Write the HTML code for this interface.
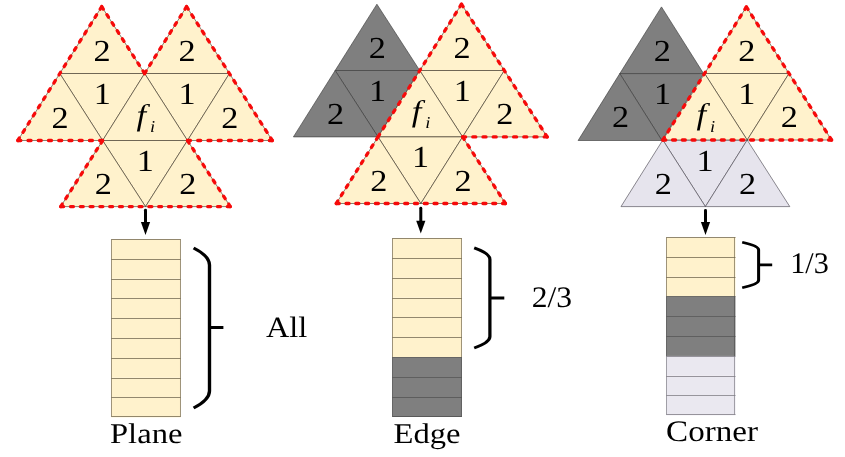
<!DOCTYPE html>
<html lang="en">
<head>
<meta charset="utf-8">
<title>Plane / Edge / Corner neighbourhood</title>
<style>
html,body{margin:0;padding:0;background:#fff;}
body{width:845px;height:457px;overflow:hidden;}
svg{display:block;}
svg text{font-family:"Liberation Serif",serif;fill:#000;text-rendering:geometricPrecision;}
.wrap{width:845px;height:457px;will-change:transform;transform:translateZ(0);}
</style>
</head>
<body>
<div class="wrap">
<svg width="845" height="457" viewBox="0 0 845 457">
<rect x="0" y="0" width="845" height="457" fill="#ffffff"/>
<g transform="scale(1.12,1)">
<polygon points="90.84,6.6 53.37,73.5 129.12,73.5" fill="#FFF2CC" stroke="#40382a" stroke-width="0.6" stroke-linejoin="round"/>
<polygon points="166.59,6.6 129.12,73.5 204.87,73.5" fill="#FFF2CC" stroke="#40382a" stroke-width="0.6" stroke-linejoin="round"/>
<polygon points="53.37,73.5 129.12,73.5 91.64,140.5" fill="#FFF2CC" stroke="#40382a" stroke-width="0.6" stroke-linejoin="round"/>
<polygon points="129.12,73.5 204.87,73.5 167.39,140.5" fill="#FFF2CC" stroke="#40382a" stroke-width="0.6" stroke-linejoin="round"/>
<polygon points="53.37,73.5 15.89,140.5 91.64,140.5" fill="#FFF2CC" stroke="#40382a" stroke-width="0.6" stroke-linejoin="round"/>
<polygon points="204.87,73.5 167.39,140.5 243.14,140.5" fill="#FFF2CC" stroke="#40382a" stroke-width="0.6" stroke-linejoin="round"/>
<polygon points="129.12,73.5 91.64,140.5 167.39,140.5" fill="#FFF2CC" stroke="#40382a" stroke-width="0.6" stroke-linejoin="round"/>
<polygon points="91.64,140.5 167.39,140.5 129.92,206.6" fill="#FFF2CC" stroke="#40382a" stroke-width="0.6" stroke-linejoin="round"/>
<polygon points="91.64,140.5 54.17,206.6 129.92,206.6" fill="#FFF2CC" stroke="#40382a" stroke-width="0.6" stroke-linejoin="round"/>
<polygon points="167.39,140.5 129.92,206.6 205.67,206.6" fill="#FFF2CC" stroke="#40382a" stroke-width="0.6" stroke-linejoin="round"/>
<line x1="129.91" y1="210.2" x2="129.91" y2="223.1" stroke="#000" stroke-width="2.68" stroke-linecap="round"/>
<polygon points="125.8,222.1 134.02,222.1 129.91,234.9" fill="#000"/>
<rect x="99.29" y="239.2" width="62.14" height="19.8" fill="#FFF2CC"/>
<rect x="99.29" y="259" width="62.14" height="19.8" fill="#FFF2CC"/>
<rect x="99.29" y="278.8" width="62.14" height="19.8" fill="#FFF2CC"/>
<rect x="99.29" y="298.6" width="62.14" height="19.8" fill="#FFF2CC"/>
<rect x="99.29" y="318.4" width="62.14" height="19.8" fill="#FFF2CC"/>
<rect x="99.29" y="338.2" width="62.14" height="19.8" fill="#FFF2CC"/>
<rect x="99.29" y="358" width="62.14" height="19.8" fill="#FFF2CC"/>
<rect x="99.29" y="377.8" width="62.14" height="19.8" fill="#FFF2CC"/>
<rect x="99.29" y="397.6" width="62.14" height="19.8" fill="#FFF2CC"/>
<path d="M99.55,239.5 V259.5 M161.16,239.5 V259.5" stroke="#6b6048" stroke-width="0.62" fill="none"/>
<path d="M99.29,239.5 H161.43" stroke="#6b6048" stroke-width="0.7" fill="none"/>
<path d="M99.55,259.5 V279.5 M161.16,259.5 V279.5" stroke="#6b6048" stroke-width="0.62" fill="none"/>
<path d="M99.29,259.5 H161.43" stroke="#6b6048" stroke-width="0.7" fill="none"/>
<path d="M99.55,279.5 V298.5 M161.16,279.5 V298.5" stroke="#6b6048" stroke-width="0.62" fill="none"/>
<path d="M99.29,279.5 H161.43" stroke="#6b6048" stroke-width="0.7" fill="none"/>
<path d="M99.55,298.5 V318.5 M161.16,298.5 V318.5" stroke="#6b6048" stroke-width="0.62" fill="none"/>
<path d="M99.29,298.5 H161.43" stroke="#6b6048" stroke-width="0.7" fill="none"/>
<path d="M99.55,318.5 V338.5 M161.16,318.5 V338.5" stroke="#6b6048" stroke-width="0.62" fill="none"/>
<path d="M99.29,318.5 H161.43" stroke="#6b6048" stroke-width="0.7" fill="none"/>
<path d="M99.55,338.5 V358.5 M161.16,338.5 V358.5" stroke="#6b6048" stroke-width="0.62" fill="none"/>
<path d="M99.29,338.5 H161.43" stroke="#6b6048" stroke-width="0.7" fill="none"/>
<path d="M99.55,358.5 V378.5 M161.16,358.5 V378.5" stroke="#6b6048" stroke-width="0.62" fill="none"/>
<path d="M99.29,358.5 H161.43" stroke="#6b6048" stroke-width="0.7" fill="none"/>
<path d="M99.55,378.5 V397.5 M161.16,378.5 V397.5" stroke="#6b6048" stroke-width="0.62" fill="none"/>
<path d="M99.29,378.5 H161.43" stroke="#6b6048" stroke-width="0.7" fill="none"/>
<path d="M99.55,397.5 V416.5 M161.16,397.5 V416.5" stroke="#6b6048" stroke-width="0.62" fill="none"/>
<path d="M99.29,397.5 H161.43" stroke="#6b6048" stroke-width="0.7" fill="none"/>
<path d="M99.29,416.5 H161.43" stroke="#6b6048" stroke-width="0.7" fill="none"/>
<path d="M172.86,248 C178.82,251.4 187.05,257.86 187.05,265 V391 C187.05,398.14 178.82,404.6 172.86,408 M187.05,327.4 H199.46" fill="none" stroke="#000" stroke-width="3.0" stroke-linecap="butt" stroke-linejoin="round"/>
<polygon points="336.52,4.2 299.24,70.5 374.78,70.5" fill="#7F7F7F" stroke="#3a3a3a" stroke-width="0.6" stroke-linejoin="round"/>
<polygon points="299.24,70.5 374.78,70.5 337.5,136.9" fill="#7F7F7F" stroke="#3a3a3a" stroke-width="0.6" stroke-linejoin="round"/>
<polygon points="299.24,70.5 261.96,136.9 337.5,136.9" fill="#7F7F7F" stroke="#3a3a3a" stroke-width="0.6" stroke-linejoin="round"/>
<polygon points="412.05,4.2 374.78,70.5 450.31,70.5" fill="#FFF2CC" stroke="#40382a" stroke-width="0.6" stroke-linejoin="round"/>
<polygon points="374.78,70.5 450.31,70.5 413.04,136.9" fill="#FFF2CC" stroke="#40382a" stroke-width="0.6" stroke-linejoin="round"/>
<polygon points="450.31,70.5 413.04,136.9 488.57,136.9" fill="#FFF2CC" stroke="#40382a" stroke-width="0.6" stroke-linejoin="round"/>
<polygon points="374.78,70.5 337.5,136.9 413.04,136.9" fill="#FFF2CC" stroke="#40382a" stroke-width="0.6" stroke-linejoin="round"/>
<polygon points="337.5,136.9 413.04,136.9 375.76,203.5" fill="#FFF2CC" stroke="#40382a" stroke-width="0.6" stroke-linejoin="round"/>
<polygon points="337.5,136.9 300.22,203.5 375.76,203.5" fill="#FFF2CC" stroke="#40382a" stroke-width="0.6" stroke-linejoin="round"/>
<polygon points="413.04,136.9 375.76,203.5 451.29,203.5" fill="#FFF2CC" stroke="#40382a" stroke-width="0.6" stroke-linejoin="round"/>
<line x1="375.71" y1="208.2" x2="375.71" y2="221.7" stroke="#000" stroke-width="2.68" stroke-linecap="round"/>
<polygon points="371.61,220.7 379.82,220.7 375.71,233.5" fill="#000"/>
<rect x="350.18" y="238.1" width="62.23" height="19.88" fill="#FFF2CC"/>
<rect x="350.18" y="257.98" width="62.23" height="19.88" fill="#FFF2CC"/>
<rect x="350.18" y="277.86" width="62.23" height="19.88" fill="#FFF2CC"/>
<rect x="350.18" y="297.73" width="62.23" height="19.88" fill="#FFF2CC"/>
<rect x="350.18" y="317.61" width="62.23" height="19.88" fill="#FFF2CC"/>
<rect x="350.18" y="337.49" width="62.23" height="19.88" fill="#FFF2CC"/>
<rect x="350.18" y="357.37" width="62.23" height="19.88" fill="#7F7F7F"/>
<rect x="350.18" y="377.24" width="62.23" height="19.88" fill="#7F7F7F"/>
<rect x="350.18" y="397.12" width="62.23" height="19.88" fill="#7F7F7F"/>
<path d="M350.45,238.5 V258.5 M412.05,238.5 V258.5" stroke="#6b6048" stroke-width="0.62" fill="none"/>
<path d="M350.18,238.5 H412.41" stroke="#6b6048" stroke-width="0.7" fill="none"/>
<path d="M350.45,258.5 V278.5 M412.05,258.5 V278.5" stroke="#6b6048" stroke-width="0.62" fill="none"/>
<path d="M350.18,258.5 H412.41" stroke="#6b6048" stroke-width="0.7" fill="none"/>
<path d="M350.45,278.5 V298.5 M412.05,278.5 V298.5" stroke="#6b6048" stroke-width="0.62" fill="none"/>
<path d="M350.18,278.5 H412.41" stroke="#6b6048" stroke-width="0.7" fill="none"/>
<path d="M350.45,298.5 V317.5 M412.05,298.5 V317.5" stroke="#6b6048" stroke-width="0.62" fill="none"/>
<path d="M350.18,298.5 H412.41" stroke="#6b6048" stroke-width="0.7" fill="none"/>
<path d="M350.45,317.5 V337.5 M412.05,317.5 V337.5" stroke="#6b6048" stroke-width="0.62" fill="none"/>
<path d="M350.18,317.5 H412.41" stroke="#6b6048" stroke-width="0.7" fill="none"/>
<path d="M350.45,337.5 V357.5 M412.05,337.5 V357.5" stroke="#6b6048" stroke-width="0.62" fill="none"/>
<path d="M350.18,337.5 H412.41" stroke="#6b6048" stroke-width="0.7" fill="none"/>
<path d="M350.45,357.5 V377.5 M412.05,357.5 V377.5" stroke="#4c4c4c" stroke-width="0.62" fill="none"/>
<path d="M350.18,357.5 H412.41" stroke="#4c4c4c" stroke-width="0.7" fill="none"/>
<path d="M350.45,377.5 V397.5 M412.05,377.5 V397.5" stroke="#4c4c4c" stroke-width="0.62" fill="none"/>
<path d="M350.18,377.5 H412.41" stroke="#4c4c4c" stroke-width="0.7" fill="none"/>
<path d="M350.45,397.5 V416.5 M412.05,397.5 V416.5" stroke="#4c4c4c" stroke-width="0.62" fill="none"/>
<path d="M350.18,397.5 H412.41" stroke="#4c4c4c" stroke-width="0.7" fill="none"/>
<path d="M350.18,416.5 H412.41" stroke="#4c4c4c" stroke-width="0.7" fill="none"/>
<path d="M423.39,247.9 C429.28,250.2 437.41,254.57 437.41,259.4 V336.5 C437.41,341.33 429.28,345.7 423.39,348 M437.41,298 H450.27" fill="none" stroke="#000" stroke-width="2.9" stroke-linecap="butt" stroke-linejoin="round"/>
<polygon points="590.62,6.9 553.39,73.6 628.21,73.6" fill="#7F7F7F" stroke="#3a3a3a" stroke-width="0.6" stroke-linejoin="round"/>
<polygon points="553.39,73.6 628.21,73.6 590.98,140.5" fill="#7F7F7F" stroke="#3a3a3a" stroke-width="0.6" stroke-linejoin="round"/>
<polygon points="553.39,73.6 516.16,140.5 590.98,140.5" fill="#7F7F7F" stroke="#3a3a3a" stroke-width="0.6" stroke-linejoin="round"/>
<polygon points="591.79,140 667.14,140 629.82,206.6" fill="#E6E4ED" stroke="#4a4850" stroke-width="0.6" stroke-linejoin="round"/>
<polygon points="591.79,140 554.46,206.6 629.82,206.6" fill="#E6E4ED" stroke="#4a4850" stroke-width="0.6" stroke-linejoin="round"/>
<polygon points="667.14,140 629.82,206.6 705.18,206.6" fill="#E6E4ED" stroke="#4a4850" stroke-width="0.6" stroke-linejoin="round"/>
<polygon points="666.43,6.9 629.11,73.5 704.46,73.5" fill="#FFF2CC" stroke="#40382a" stroke-width="0.6" stroke-linejoin="round"/>
<polygon points="629.11,73.5 704.46,73.5 667.14,140" fill="#FFF2CC" stroke="#40382a" stroke-width="0.6" stroke-linejoin="round"/>
<polygon points="704.46,73.5 667.14,140 742.5,140" fill="#FFF2CC" stroke="#40382a" stroke-width="0.6" stroke-linejoin="round"/>
<polygon points="629.11,73.5 591.79,140 667.14,140" fill="#FFF2CC" stroke="#40382a" stroke-width="0.6" stroke-linejoin="round"/>
<line x1="629.91" y1="210.4" x2="629.91" y2="223.1" stroke="#000" stroke-width="2.68" stroke-linecap="round"/>
<polygon points="625.8,222.1 634.02,222.1 629.91,234.9" fill="#000"/>
<rect x="594.82" y="237.3" width="61.87" height="19.78" fill="#FFF2CC"/>
<rect x="594.82" y="257.08" width="61.87" height="19.78" fill="#FFF2CC"/>
<rect x="594.82" y="276.86" width="61.87" height="19.78" fill="#FFF2CC"/>
<rect x="594.82" y="296.63" width="61.87" height="19.78" fill="#7F7F7F"/>
<rect x="594.82" y="316.41" width="61.87" height="19.78" fill="#7F7F7F"/>
<rect x="594.82" y="336.19" width="61.87" height="19.78" fill="#7F7F7F"/>
<rect x="594.82" y="355.97" width="61.87" height="19.78" fill="#EAE8F0"/>
<rect x="594.82" y="375.74" width="61.87" height="19.78" fill="#EAE8F0"/>
<rect x="594.82" y="395.52" width="61.87" height="19.78" fill="#EAE8F0"/>
<path d="M595.09,237.5 V257.5 M655.8,237.5 V257.5" stroke="#6b6048" stroke-width="0.62" fill="none"/>
<path d="M594.82,237.5 H656.7" stroke="#6b6048" stroke-width="0.7" fill="none"/>
<path d="M595.09,257.5 V277.5 M655.8,257.5 V277.5" stroke="#6b6048" stroke-width="0.62" fill="none"/>
<path d="M594.82,257.5 H656.7" stroke="#6b6048" stroke-width="0.7" fill="none"/>
<path d="M595.09,277.5 V296.5 M655.8,277.5 V296.5" stroke="#6b6048" stroke-width="0.62" fill="none"/>
<path d="M594.82,277.5 H656.7" stroke="#6b6048" stroke-width="0.7" fill="none"/>
<path d="M595.09,296.5 V316.5 M655.8,296.5 V316.5" stroke="#4c4c4c" stroke-width="0.62" fill="none"/>
<path d="M594.82,296.5 H656.7" stroke="#4c4c4c" stroke-width="0.7" fill="none"/>
<path d="M595.09,316.5 V336.5 M655.8,316.5 V336.5" stroke="#4c4c4c" stroke-width="0.62" fill="none"/>
<path d="M594.82,316.5 H656.7" stroke="#4c4c4c" stroke-width="0.7" fill="none"/>
<path d="M595.09,336.5 V356.5 M655.8,336.5 V356.5" stroke="#4c4c4c" stroke-width="0.62" fill="none"/>
<path d="M594.82,336.5 H656.7" stroke="#4c4c4c" stroke-width="0.7" fill="none"/>
<path d="M595.09,356.5 V376.5 M655.8,356.5 V376.5" stroke="#77757d" stroke-width="0.62" fill="none"/>
<path d="M594.82,356.5 H656.7" stroke="#77757d" stroke-width="0.7" fill="none"/>
<path d="M595.09,376.5 V395.5 M655.8,376.5 V395.5" stroke="#77757d" stroke-width="0.62" fill="none"/>
<path d="M594.82,376.5 H656.7" stroke="#77757d" stroke-width="0.7" fill="none"/>
<path d="M595.09,395.5 V414.5 M655.8,395.5 V414.5" stroke="#77757d" stroke-width="0.62" fill="none"/>
<path d="M594.82,395.5 H656.7" stroke="#77757d" stroke-width="0.7" fill="none"/>
<path d="M594.82,414.5 H656.7" stroke="#77757d" stroke-width="0.7" fill="none"/>
<path d="M662.68,242.3 C668.83,243.8 677.32,246.65 677.32,249.8 V280.2 C677.32,283.35 668.83,286.2 662.68,287.7 M677.32,264.8 H689.46" fill="none" stroke="#000" stroke-width="2.7" stroke-linecap="butt" stroke-linejoin="round"/>
</g>
<g fill="none">
<line x1="101.74" y1="6.6" x2="17.8" y2="140.5" stroke="#F60A0A" stroke-width="3.3" stroke-dasharray="3 6.69" stroke-linecap="round"/>
<line x1="17.8" y1="140.5" x2="102.64" y2="140.5" stroke="#F60A0A" stroke-width="3.3" stroke-dasharray="3 7.23" stroke-linecap="round"/>
<line x1="102.64" y1="140.5" x2="60.67" y2="206.6" stroke="#F60A0A" stroke-width="3.3" stroke-dasharray="3 6.41" stroke-linecap="round"/>
<line x1="60.67" y1="206.6" x2="230.35" y2="206.6" stroke="#F60A0A" stroke-width="3.3" stroke-dasharray="3 6.8" stroke-linecap="round"/>
<line x1="230.35" y1="206.6" x2="187.48" y2="140.5" stroke="#F60A0A" stroke-width="3.3" stroke-dasharray="3 6.47" stroke-linecap="round"/>
<line x1="187.48" y1="140.5" x2="272.32" y2="140.5" stroke="#F60A0A" stroke-width="3.3" stroke-dasharray="3 7.23" stroke-linecap="round"/>
<line x1="272.32" y1="140.5" x2="186.58" y2="6.6" stroke="#F60A0A" stroke-width="3.3" stroke-dasharray="3 6.75" stroke-linecap="round"/>
<line x1="186.58" y1="6.6" x2="144.61" y2="73.5" stroke="#F60A0A" stroke-width="3.3" stroke-dasharray="3 6.5" stroke-linecap="round"/>
<line x1="144.61" y1="73.5" x2="101.74" y2="6.6" stroke="#F60A0A" stroke-width="3.3" stroke-dasharray="3 6.56" stroke-linecap="round"/>
<line x1="461.5" y1="4.2" x2="378" y2="136.9" stroke="#F60A0A" stroke-width="3.3" stroke-dasharray="3 6.61" stroke-linecap="round"/>
<line x1="378" y1="136.9" x2="336.25" y2="203.5" stroke="#F60A0A" stroke-width="3.3" stroke-dasharray="3 6.45" stroke-linecap="round"/>
<line x1="336.25" y1="203.5" x2="505.45" y2="203.5" stroke="#F60A0A" stroke-width="3.3" stroke-dasharray="3 6.78" stroke-linecap="round"/>
<line x1="505.45" y1="203.5" x2="462.6" y2="136.9" stroke="#F60A0A" stroke-width="3.3" stroke-dasharray="3 6.52" stroke-linecap="round"/>
<line x1="462.6" y1="136.9" x2="547.2" y2="136.9" stroke="#F60A0A" stroke-width="3.3" stroke-dasharray="3 7.2" stroke-linecap="round"/>
<line x1="547.2" y1="136.9" x2="461.5" y2="4.2" stroke="#F60A0A" stroke-width="3.3" stroke-dasharray="3 6.69" stroke-linecap="round"/>
<line x1="746.4" y1="6.9" x2="662.8" y2="140" stroke="#F60A0A" stroke-width="3.3" stroke-dasharray="3 6.64" stroke-linecap="round"/>
<line x1="662.8" y1="140" x2="831.6" y2="140" stroke="#F60A0A" stroke-width="3.3" stroke-dasharray="3 6.75" stroke-linecap="round"/>
<line x1="831.6" y1="140" x2="746.4" y2="6.9" stroke="#F60A0A" stroke-width="3.3" stroke-dasharray="3 6.69" stroke-linecap="round"/>
</g>
<g>
<text transform="translate(102.1,60.6) scale(1.12,1)" font-size="30.6" text-anchor="middle">2</text>
<text transform="translate(186.94,60.6) scale(1.12,1)" font-size="30.6" text-anchor="middle">2</text>
<text transform="translate(102.33,103.6) scale(1.12,1)" font-size="30.6" text-anchor="middle">1</text>
<text transform="translate(187.17,103.6) scale(1.12,1)" font-size="30.6" text-anchor="middle">1</text>
<text transform="translate(60.13,128) scale(1.12,1)" font-size="30.6" text-anchor="middle">2</text>
<text transform="translate(229.81,128) scale(1.12,1)" font-size="30.6" text-anchor="middle">2</text>
<text transform="translate(145.19,170.7) scale(1.12,1)" font-size="30.6" text-anchor="middle">1</text>
<text transform="translate(103.3,194.2) scale(1.12,1)" font-size="30.6" text-anchor="middle">2</text>
<text transform="translate(187.84,194.2) scale(1.12,1)" font-size="30.6" text-anchor="middle">2</text>
<text transform="translate(136.52,124.7) scale(1.15,1)" font-size="30" font-style="italic" text-anchor="start">f</text>
<text transform="translate(150.02,132) scale(1.12,1)" font-size="16.5" font-style="italic" text-anchor="start">i</text>
<text transform="translate(266,337) scale(1.1,1)" font-size="29.4" text-anchor="start">All</text>
<text transform="translate(146.2,442.6) scale(1.14,1)" font-size="28.6" text-anchor="middle">Plane</text>
<text transform="translate(377.34,57.6) scale(1.12,1)" font-size="30.6" text-anchor="middle">2</text>
<text transform="translate(461.94,57.6) scale(1.12,1)" font-size="30.6" text-anchor="middle">2</text>
<text transform="translate(377.61,100.6) scale(1.12,1)" font-size="30.6" text-anchor="middle">1</text>
<text transform="translate(462.21,100.6) scale(1.12,1)" font-size="30.6" text-anchor="middle">1</text>
<text transform="translate(335.59,123.7) scale(1.12,1)" font-size="30.6" text-anchor="middle">2</text>
<text transform="translate(504.79,123.7) scale(1.12,1)" font-size="30.6" text-anchor="middle">2</text>
<text transform="translate(420.46,167.1) scale(1.12,1)" font-size="30.6" text-anchor="middle">1</text>
<text transform="translate(378.74,190.5) scale(1.12,1)" font-size="30.6" text-anchor="middle">2</text>
<text transform="translate(463.04,190.5) scale(1.12,1)" font-size="30.6" text-anchor="middle">2</text>
<text transform="translate(411.74,121.1) scale(1.15,1)" font-size="30" font-style="italic" text-anchor="start">f</text>
<text transform="translate(425.24,128.4) scale(1.12,1)" font-size="16.5" font-style="italic" text-anchor="start">i</text>
<text transform="translate(531.8,307.4) scale(1.06,1)" font-size="29.8" text-anchor="start">2/3</text>
<text transform="translate(427,442.6) scale(1.14,1)" font-size="28.6" text-anchor="middle">Edge</text>
<text transform="translate(662.32,60.6) scale(1.12,1)" font-size="30.6" text-anchor="middle">2</text>
<text transform="translate(746.72,60.6) scale(1.12,1)" font-size="30.6" text-anchor="middle">2</text>
<text transform="translate(662.52,103.6) scale(1.12,1)" font-size="30.6" text-anchor="middle">1</text>
<text transform="translate(746.92,103.6) scale(1.12,1)" font-size="30.6" text-anchor="middle">1</text>
<text transform="translate(620.52,126.8) scale(1.12,1)" font-size="30.6" text-anchor="middle">2</text>
<text transform="translate(789.32,126.8) scale(1.12,1)" font-size="30.6" text-anchor="middle">2</text>
<text transform="translate(705.12,171.1) scale(1.12,1)" font-size="30.6" text-anchor="middle">1</text>
<text transform="translate(663.42,194.2) scale(1.12,1)" font-size="30.6" text-anchor="middle">2</text>
<text transform="translate(747.52,194.2) scale(1.12,1)" font-size="30.6" text-anchor="middle">2</text>
<text transform="translate(696.48,124.2) scale(1.15,1)" font-size="30" font-style="italic" text-anchor="start">f</text>
<text transform="translate(709.98,131.5) scale(1.12,1)" font-size="16.5" font-style="italic" text-anchor="start">i</text>
<text transform="translate(790.2,273.4) scale(1.01,1)" font-size="29.9" text-anchor="start">1/3</text>
<text transform="translate(712,441.1) scale(1.11,1)" font-size="29.8" text-anchor="middle">Corner</text>
</g>
</svg>
</div>
</body>
</html>
